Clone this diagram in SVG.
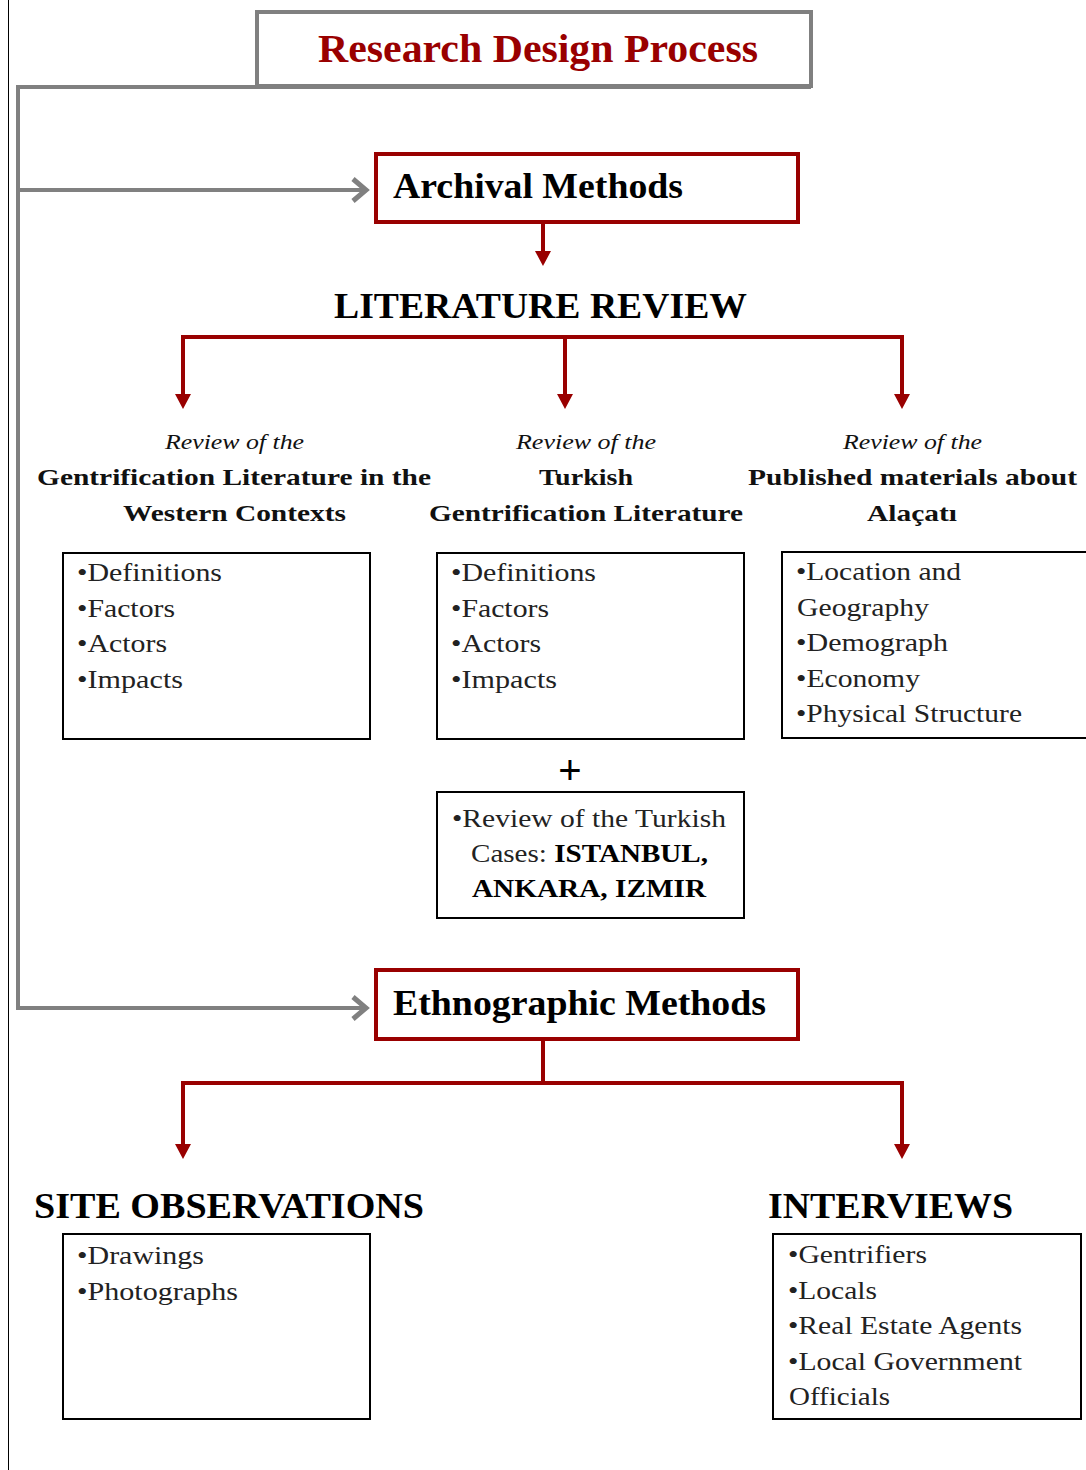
<svg xmlns="http://www.w3.org/2000/svg" width="1086" height="1470" viewBox="0 0 1086 1470">
<style>
.bg{fill:#ffffff}
.gray{stroke:#808080;stroke-width:4;fill:none}
.red{stroke:#990000;stroke-width:4;fill:none}
.box{stroke:#000;stroke-width:2;fill:#fff}
.mbox{stroke:#990000;stroke-width:4;fill:#fff}
.title{font-family:"Liberation Serif","Times New Roman",serif;font-weight:bold;fill:#990000;font-size:40px}
.head{font-family:"Liberation Serif","Times New Roman",serif;font-weight:bold;fill:#000;font-size:36px}
.sub{font-family:"Liberation Serif","Times New Roman",serif;font-weight:bold;fill:#111;font-size:24px}
.ital{font-family:"Liberation Serif","Times New Roman",serif;font-style:italic;fill:#111;font-size:22px}
.item{font-family:"Liberation Serif","Times New Roman",serif;fill:#222;font-size:26px}
.b{font-weight:bold;fill:#000}
</style>
<defs>
<marker id="redhead" markerUnits="userSpaceOnUse" viewBox="0 0 15 16" refX="6" refY="8" markerWidth="15" markerHeight="16" orient="auto" overflow="visible">
<path d="M0,0 L15,8 L0,16 z" fill="#990000"/>
</marker>
<marker id="grayhead" markerUnits="userSpaceOnUse" viewBox="0 0 18 26" refX="15" refY="13" markerWidth="18" markerHeight="26" orient="auto" overflow="visible">
<path d="M2,2 L15,13 L2,24" fill="none" stroke="#808080" stroke-width="5"/>
</marker>
</defs>
<rect class="bg" x="0" y="0" width="1086" height="1470"/>
<line x1="8.5" y1="0" x2="8.5" y2="1470" stroke="#000" stroke-width="1"/>

<g id="connectors">
<path class="gray" d="M811,87 H18 V1008 H366" marker-end="url(#grayhead)"/>
<path class="gray" d="M18,190 H366" marker-end="url(#grayhead)"/>
<path class="red" d="M543,222 V257" marker-end="url(#redhead)"/>
<path class="red" d="M183,400 V337 H902 V400" />
<path class="red" d="M183,337 V400" marker-end="url(#redhead)"/>
<path class="red" d="M565,337 V400" marker-end="url(#redhead)"/>
<path class="red" d="M902,337 V400" marker-end="url(#redhead)"/>
<path class="red" d="M543,1039 V1083"/>
<path class="red" d="M183,1150 V1083 H902 V1150"/>
<path class="red" d="M183,1083 V1150" marker-end="url(#redhead)"/>
<path class="red" d="M902,1083 V1150" marker-end="url(#redhead)"/>
</g>

<g id="title">
<rect x="257" y="12" width="554" height="74" fill="#fff" stroke="#808080" stroke-width="4"/>
<text class="title" x="318" y="62" textLength="440" lengthAdjust="spacingAndGlyphs">Research Design Process</text>
</g>

<g id="archival">
<rect class="mbox" x="376" y="154" width="422" height="68"/>
<text class="head" x="393" y="198" textLength="290" lengthAdjust="spacingAndGlyphs">Archival Methods</text>
</g>

<g id="literature-review">
<text class="head" x="334" y="318" textLength="413" lengthAdjust="spacingAndGlyphs">LITERATURE REVIEW</text>
</g>

<g id="western">
<text class="ital" x="165" y="449" textLength="139" lengthAdjust="spacingAndGlyphs">Review of the</text>
<text class="sub" x="37" y="485" textLength="394" lengthAdjust="spacingAndGlyphs">Gentrification Literature in the</text>
<text class="sub" x="123" y="521" textLength="223" lengthAdjust="spacingAndGlyphs">Western Contexts</text>
</g>

<g id="turkish">
<text class="ital" x="516" y="449" textLength="140" lengthAdjust="spacingAndGlyphs">Review of the</text>
<text class="sub" x="539" y="485" textLength="94" lengthAdjust="spacingAndGlyphs">Turkish</text>
<text class="sub" x="429" y="521" textLength="314" lengthAdjust="spacingAndGlyphs">Gentrification Literature</text>
</g>

<g id="alacati">
<text class="ital" x="843" y="449" textLength="139" lengthAdjust="spacingAndGlyphs">Review of the</text>
<text class="sub" x="748" y="485" textLength="329" lengthAdjust="spacingAndGlyphs">Published materials about</text>
<text class="sub" x="867" y="521" textLength="90" lengthAdjust="spacingAndGlyphs">Alaçatı</text>
</g>

<g id="box-western">
<rect class="box" x="63" y="553" width="307" height="186"/>
<text class="item" x="77" y="581" textLength="145" lengthAdjust="spacingAndGlyphs">•Definitions</text>
<text class="item" x="77" y="617" textLength="98" lengthAdjust="spacingAndGlyphs">•Factors</text>
<text class="item" x="77" y="652" textLength="90" lengthAdjust="spacingAndGlyphs">•Actors</text>
<text class="item" x="77" y="688" textLength="106" lengthAdjust="spacingAndGlyphs">•Impacts</text>
</g>

<g id="box-turkish">
<rect class="box" x="437" y="553" width="307" height="186"/>
<text class="item" x="451" y="581" textLength="145" lengthAdjust="spacingAndGlyphs">•Definitions</text>
<text class="item" x="451" y="617" textLength="98" lengthAdjust="spacingAndGlyphs">•Factors</text>
<text class="item" x="451" y="652" textLength="90" lengthAdjust="spacingAndGlyphs">•Actors</text>
<text class="item" x="451" y="688" textLength="106" lengthAdjust="spacingAndGlyphs">•Impacts</text>
</g>

<g id="box-alacati">
<rect class="box" x="782" y="552" width="310" height="186"/>
<text class="item" x="796" y="580" textLength="165" lengthAdjust="spacingAndGlyphs">•Location and</text>
<text class="item" x="797" y="616" textLength="132" lengthAdjust="spacingAndGlyphs">Geography</text>
<text class="item" x="796" y="651" textLength="152" lengthAdjust="spacingAndGlyphs">•Demograph</text>
<text class="item" x="796" y="687" textLength="124" lengthAdjust="spacingAndGlyphs">•Economy</text>
<text class="item" x="796" y="722" textLength="226" lengthAdjust="spacingAndGlyphs">•Physical Structure</text>
</g>

<g id="plus">
<text x="570" y="784" text-anchor="middle" font-family="Liberation Sans, Arial, sans-serif" font-size="40" fill="#000">+</text>
</g>

<g id="box-cases">
<rect class="box" x="437" y="792" width="307" height="126"/>
<text class="item" x="452" y="827" textLength="274" lengthAdjust="spacingAndGlyphs">•Review of the Turkish</text>
<text class="item" x="471" y="862" textLength="237" lengthAdjust="spacingAndGlyphs">Cases: <tspan class="b">ISTANBUL,</tspan></text>
<text class="item b" x="472" y="897" textLength="234" lengthAdjust="spacingAndGlyphs">ANKARA, IZMIR</text>
</g>

<g id="ethnographic">
<rect class="mbox" x="376" y="970" width="422" height="69"/>
<text class="head" x="393" y="1015" textLength="373" lengthAdjust="spacingAndGlyphs">Ethnographic Methods</text>
</g>

<g id="site-observations">
<text class="head" x="34" y="1218" textLength="390" lengthAdjust="spacingAndGlyphs">SITE OBSERVATIONS</text>
<rect class="box" x="63" y="1234" width="307" height="185"/>
<text class="item" x="77" y="1264" textLength="127" lengthAdjust="spacingAndGlyphs">•Drawings</text>
<text class="item" x="77" y="1300" textLength="161" lengthAdjust="spacingAndGlyphs">•Photographs</text>
</g>

<g id="interviews">
<text class="head" x="768" y="1218" textLength="245" lengthAdjust="spacingAndGlyphs">INTERVIEWS</text>
<rect class="box" x="773" y="1234" width="308" height="185"/>
<text class="item" x="788" y="1263" textLength="139" lengthAdjust="spacingAndGlyphs">•Gentrifiers</text>
<text class="item" x="788" y="1299" textLength="89" lengthAdjust="spacingAndGlyphs">•Locals</text>
<text class="item" x="788" y="1334" textLength="234" lengthAdjust="spacingAndGlyphs">•Real Estate Agents</text>
<text class="item" x="788" y="1370" textLength="234" lengthAdjust="spacingAndGlyphs">•Local Government</text>
<text class="item" x="789" y="1405" textLength="101" lengthAdjust="spacingAndGlyphs">Officials</text>
</g>
</svg>
